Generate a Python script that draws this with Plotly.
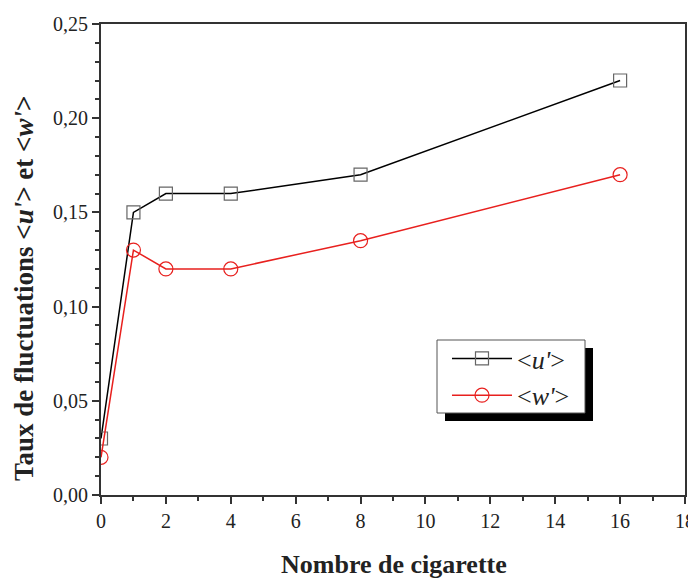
import plotly.graph_objects as go

x_vals = [0, 1, 2, 4, 8, 16]
u_vals = [0.03, 0.15, 0.16, 0.16, 0.17, 0.22]
w_vals = [0.02, 0.13, 0.12, 0.12, 0.135, 0.17]
x_ticks = [0, 2, 4, 6, 8, 10, 12, 14, 16, 18]
y_ticks = [0.0, 0.05, 0.10, 0.15, 0.20, 0.25]
x_title = "<b>Nombre de cigarette</b>"
y_title = "<b>Taux de fluctuations &lt;<i>u'</i>&gt; et &lt;<i>w'</i>&gt;</b>"

FONT = "Liberation Serif"

fig = go.Figure()
fig.add_trace(go.Scatter(
    x=x_vals, y=u_vals, mode="lines+markers", name="&lt;<i>u'</i>&gt;",
    line=dict(color="black", width=1.5),
    marker=dict(symbol="square-open", size=13, color="#666666", line=dict(width=1.2)),
))
fig.add_trace(go.Scatter(
    x=x_vals, y=w_vals, mode="lines+markers", name="&lt;<i>w'</i>&gt;",
    line=dict(color="#e8201e", width=1.5),
    marker=dict(symbol="circle-open", size=14, color="#e8201e", line=dict(width=1.2)),
))

axis_common = dict(
    showline=True, linecolor="#333333", linewidth=2, mirror=True,
    ticks="outside", ticklen=7, tickwidth=1.5, tickcolor="#333333",
    showgrid=False, zeroline=False, automargin=False,
    tickfont=dict(family=FONT, size=20, color="#222222"),
)

fig.update_xaxes(
    range=[0, 18], tickvals=x_ticks,
    minor=dict(dtick=1, ticks="outside", ticklen=4, tickcolor="#333333", tickwidth=1.5),
    **axis_common,
)
fig.update_yaxes(
    range=[0, 0.25], tickvals=y_ticks, tickformat=".2f",
    minor=dict(dtick=0.01, ticks="outside", ticklen=4, tickcolor="#333333", tickwidth=1.5),
    **axis_common,
)

# page offset from default body margin
OFF = 8
W, H = 696 - OFF, 578 - OFF
ml, mr, mt, mb = 101 - OFF, 11, 24 - OFF, 83
pw, ph = W - ml - mr, H - mt - mb

def px_to_paper(px, py):
    # px, py are window pixel coordinates
    return (px - OFF - ml) / pw, (H - mb - (py - OFF)) / ph

# axis titles
tx, ty = px_to_paper(393.5, 564)
fig.add_annotation(text=x_title, xref="paper", yref="paper", x=tx, y=ty,
                   xanchor="center", yanchor="middle", showarrow=False,
                   font=dict(family=FONT, size=26, color="#222222"))
tx, ty = px_to_paper(24, 289)
fig.add_annotation(text=y_title, xref="paper", yref="paper", x=tx, y=ty, textangle=-90,
                   xanchor="center", yanchor="middle", showarrow=False,
                   font=dict(family=FONT, size=27, color="#222222"))

# legend box and shadow
sx0, sy0 = px_to_paper(445, 348)
sx1, sy1 = px_to_paper(593, 421)
bx0, by0 = px_to_paper(437, 340)
bx1, by1 = px_to_paper(585, 413)
fig.add_shape(type="rect", xref="paper", yref="paper", x0=sx0, y0=sy1, x1=sx1, y1=sy0,
              fillcolor="black", line=dict(color="black", width=0), layer="above")
fig.add_shape(type="rect", xref="paper", yref="paper", x0=bx0, y0=by1, x1=bx1, y1=by0,
              fillcolor="white", line=dict(color="#555555", width=1), layer="above")

lx, ly = px_to_paper(447, 335)
fig.update_layout(
    width=W, height=H,
    margin=dict(l=ml, r=mr, t=mt, b=mb),
    plot_bgcolor="white", paper_bgcolor="white",
    separators=", ",
    showlegend=True,
    legend=dict(x=lx, y=ly, xanchor="left", yanchor="top",
                bgcolor="rgba(0,0,0,0)", borderwidth=0,
                font=dict(family=FONT, size=26, color="#222222"),
                itemwidth=60),
)

fig.write_html("out.html")
